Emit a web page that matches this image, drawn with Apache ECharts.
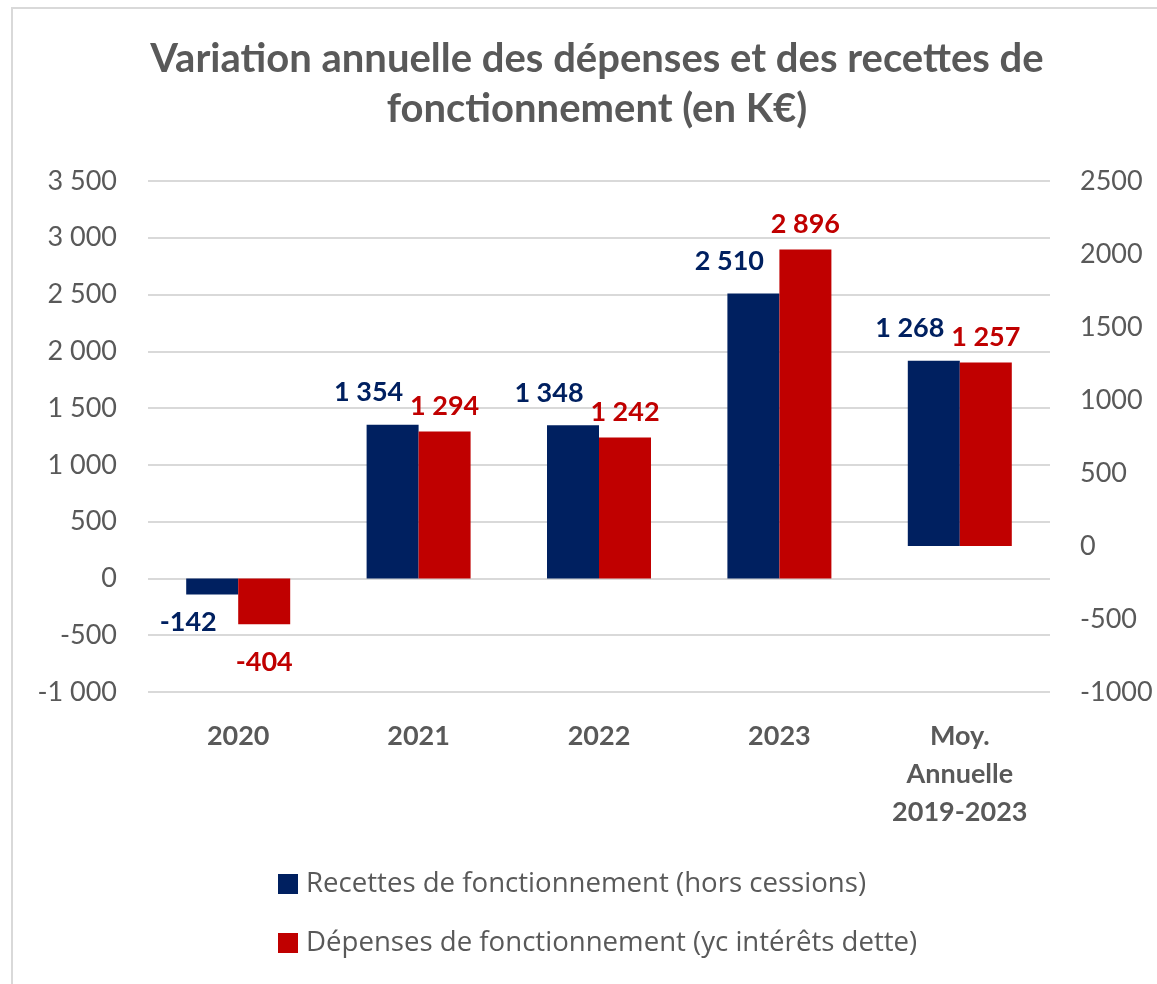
<!DOCTYPE html>
<html>
<head>
<meta charset="utf-8">
<script src="https://cdn.jsdelivr.net/npm/echarts@6/dist/echarts.min.js"></script>
<style>
html,body{margin:0;padding:0;background:#fff;}
#chart{width:1157px;height:984px;}
</style>
</head>
<body>
<div id="chart"></div>
<script>
const categories = ['2020', '2021', '2022', '2023', 'Moy.\nAnnuelle\n2019-2023'];
const recettes = [-142, 1354, 1348, 2510, null];
const depenses = [-404, 1294, 1242, 2896, null];
const recettesMoy = [null, null, null, null, 1268];
const depensesMoy = [null, null, null, null, 1257];
const leftTicks = { min: -1000, max: 3500, interval: 500 };
const rightTicks = { min: -1000, max: 2500, interval: 500 };
const seriesNames = ['Recettes de fonctionnement (hors cessions)', 'Dépenses de fonctionnement (yc intérêts dette)'];
const title = 'Variation annuelle des dépenses et des recettes de\nfonctionnement (en K€)';

const BLUE = '#002060', RED = '#C00000', GRAY = '#595959', GRID = '#D9D9D9';
const FONT = 'Lato';

function fmt(n) {
  const s = Math.abs(n).toString().replace(/\B(?=(\d{3})+(?!\d))/g, ' ');
  return (n < 0 ? '-' : '') + s;
}
function toData(arr, posDist, negDist) {
  return arr.map(v => v === null ? '-' : {
    value: v,
    label: { position: v < 0 ? 'bottom' : 'top', distance: v < 0 ? negDist : posDist }
  });
}
function barSeries(name, arr, color, xi, yi, offX, posDist, negDist) {
  return {
    name: name, type: 'bar', xAxisIndex: xi, yAxisIndex: yi,
    data: toData(arr, posDist, negDist), barWidth: 52, barGap: '0%',
    itemStyle: { color: color },
    label: {
      show: true, color: color, fontFamily: FONT, fontWeight: 'bold', fontSize: 27,
      offset: [offX, 0],
      formatter: p => fmt(p.value)
    }
  };
}

const chart = echarts.init(document.getElementById('chart'), null, { renderer: 'canvas' });
chart.setOption({
  backgroundColor: '#fff',
  animation: false,
  title: {
    text: title, left: 592, top: 29, textAlign: 'center',
    textStyle: { fontFamily: FONT, fontWeight: 'bold', fontSize: 40, lineHeight: 50, color: GRAY }
  },
  graphic: [{
    type: 'rect', shape: { x: 12, y: 8, width: 1300, height: 1100 },
    style: { fill: 'none', stroke: GRID, lineWidth: 2 }, silent: true
  }],
  grid: { left: 148, right: 107, top: 181, bottom: 292, containLabel: false },
  legend: {
    orient: 'vertical', left: 273, top: 865, itemWidth: 20, itemHeight: 20, itemGap: 31,
    icon: 'rect', data: seriesNames,
    textStyle: { fontFamily: 'Open Sans', fontSize: 27.6, color: GRAY, padding: [0, 0, 0, 3] }
  },
  xAxis: [{
    type: 'category', data: categories,
    axisLine: { show: false }, axisTick: { show: false },
    axisLabel: { margin: 25, fontFamily: FONT, fontWeight: 'bold', fontSize: 27, color: GRAY, lineHeight: 38, interval: 0 }
  }, {
    type: 'category', data: categories, show: false
  }],
  yAxis: [{
    type: 'value', min: leftTicks.min, max: leftTicks.max, interval: leftTicks.interval,
    axisLine: { show: false }, axisTick: { show: false },
    splitLine: { lineStyle: { color: GRID, width: 2 } },
    axisLabel: { margin: 31, fontFamily: FONT, fontSize: 27, color: GRAY, formatter: v => fmt(v) }
  }, {
    type: 'value', min: rightTicks.min, max: rightTicks.max, interval: rightTicks.interval,
    axisLine: { show: false }, axisTick: { show: false }, splitLine: { show: false },
    axisLabel: { margin: 30, fontFamily: FONT, fontSize: 27, color: GRAY, formatter: v => String(v) }
  }],
  series: [
    barSeries(seriesNames[0], recettes, BLUE, 0, 0, -24, 19, 14),
    barSeries(seriesNames[1], depenses, RED, 0, 0, 0, 12, 24),
    barSeries(seriesNames[0], recettesMoy, BLUE, 1, 1, -24, 19, 14),
    barSeries(seriesNames[1], depensesMoy, RED, 1, 1, 0, 12, 24)
  ]
});
</script>
</body>
</html>
